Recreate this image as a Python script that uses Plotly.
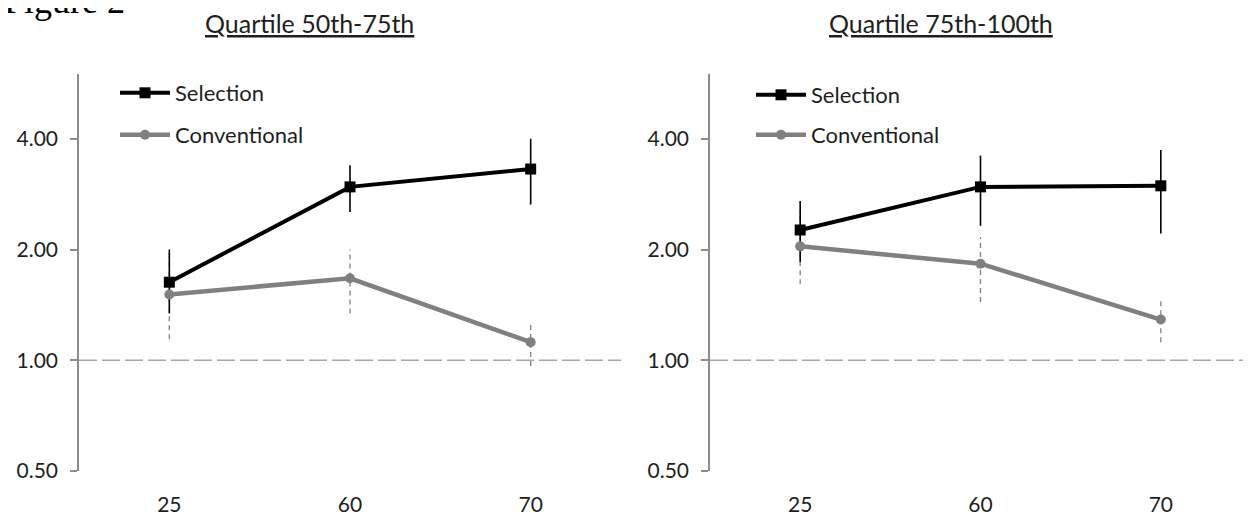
import math
import plotly.graph_objects as go

# ---------------- data ----------------
categories = ["25", "60", "70"]
y_tick_vals = [0.5, 1, 2, 4]
y_tick_text = ["0.50", "1.00", "2.00", "4.00"]

left_sel = [1.63, 2.96, 3.31]
left_sel_lo = [1.34, 2.53, 2.65]
left_sel_hi = [2.00, 3.39, 4.00]
left_conv = [1.51, 1.67, 1.12]
left_conv_lo = [1.14, 1.34, 0.965]
left_conv_hi = [1.98, 2.00, 1.27]

right_sel = [2.26, 2.96, 2.98]
right_sel_lo = [1.85, 2.32, 2.21]
right_sel_hi = [2.71, 3.60, 3.73]
right_conv = [2.04, 1.83, 1.29]
right_conv_lo = [1.61, 1.44, 1.12]
right_conv_hi = [2.55, 2.16, 1.45]

titles = ["Quartile 50th-75th", "Quartile 75th-100th"]
series_names = ["Selection", "Conventional"]

# ---------------- style ----------------
W, H = 1251, 525
OFF = 8                      # page body margin
S_TOP, S_BOTTOM = 74, 471    # plot area top/bottom on screen
TOP, BOTTOM = S_TOP - OFF, S_BOTTOM - OFF
FONT = "Lato"
TXT = "#1e1e1e"
BLACK = "#000000"
GREY = "#808080"
AXIS_GREY = "#8c8c8c"

fig = go.Figure()
xpos = list(range(len(categories)))


def err_xy(lo, hi):
    xs, ys = [], []
    for i in xpos:
        xs += [i, i, None]
        ys += [lo[i], hi[i], None]
    return xs, ys


def add_panel(n, sel, sel_lo, sel_hi, conv, conv_lo, conv_hi, leg_a, leg_b):
    xa = "x" if n == 1 else "x2"
    ya = "y" if n == 1 else "y2"
    fig.add_trace(go.Scatter(x=[-0.5, len(categories) - 0.5], y=[1, 1], mode="lines",
                             line=dict(color="#a6a6a6", width=1.5, dash="18px,5px"),
                             xaxis=xa, yaxis=ya, showlegend=False, hoverinfo="skip"))
    ex, ey = err_xy(conv_lo, conv_hi)
    fig.add_trace(go.Scatter(x=ex, y=ey, mode="lines",
                             line=dict(color=GREY, width=1.3, dash="5px,4px"),
                             xaxis=xa, yaxis=ya, showlegend=False, hoverinfo="skip"))
    ex, ey = err_xy(sel_lo, sel_hi)
    fig.add_trace(go.Scatter(x=ex, y=ey, mode="lines",
                             line=dict(color=BLACK, width=1.6),
                             xaxis=xa, yaxis=ya, showlegend=False, hoverinfo="skip"))
    fig.add_trace(go.Scatter(x=xpos, y=conv, mode="lines+markers", name=series_names[1],
                             line=dict(color=GREY, width=4.5),
                             marker=dict(symbol="circle", size=10, color=GREY),
                             xaxis=xa, yaxis=ya, legend=leg_b))
    fig.add_trace(go.Scatter(x=xpos, y=sel, mode="lines+markers", name=series_names[0],
                             line=dict(color=BLACK, width=4),
                             marker=dict(symbol="square", size=11, color=BLACK),
                             xaxis=xa, yaxis=ya, legend=leg_a))


add_panel(1, left_sel, left_sel_lo, left_sel_hi, left_conv, left_conv_lo, left_conv_hi,
          "legend", "legend2")
add_panel(2, right_sel, right_sel_lo, right_sel_hi, right_conv, right_conv_lo, right_conv_hi,
          "legend3", "legend4")


def px(sx):
    return (sx - OFF) / W


def py(sy):
    return (S_BOTTOM - sy) / (S_BOTTOM - S_TOP)


xaxis_common = dict(range=[-0.5, len(categories) - 0.5], tickvals=xpos, ticktext=categories,
                    showline=False, showgrid=False, zeroline=False, ticks="",
                    tickfont=dict(family=FONT, size=21, color=TXT),
                    ticklabelstandoff=19, automargin=False, fixedrange=True)
yaxis_common = dict(type="log", range=[math.log10(0.5), math.log10(6)],
                    tickvals=y_tick_vals, ticktext=y_tick_text,
                    showline=True, linecolor=AXIS_GREY, linewidth=1.5,
                    ticks="outside", ticklen=7, tickwidth=1.5, tickcolor=AXIS_GREY,
                    showgrid=False, zeroline=False,
                    tickfont=dict(family=FONT, size=21, color=TXT),
                    ticklabelstandoff=8, automargin=False, fixedrange=True)

leg_common = dict(bgcolor="rgba(0,0,0,0)", borderwidth=0, itemwidth=50,
                  font=dict(family=FONT, size=22, color=TXT),
                  xanchor="left", yanchor="middle", xref="paper", yref="paper")

fig.update_layout(
    width=W, height=H,
    margin=dict(l=0, r=0, t=TOP, b=H - BOTTOM),
    paper_bgcolor="white", plot_bgcolor="white",
    xaxis=dict(domain=[px(79), px(621)], anchor="y", **xaxis_common),
    xaxis2=dict(domain=[px(710), px(1251)], anchor="y2", **xaxis_common),
    yaxis=dict(domain=[0, 1], anchor="x", **yaxis_common),
    yaxis2=dict(domain=[0, 1], anchor="x2", **yaxis_common),
    legend=dict(x=px(115), y=py(93), **leg_common),
    legend2=dict(x=px(115), y=py(135), **leg_common),
    legend3=dict(x=px(751), y=py(95), **leg_common),
    legend4=dict(x=px(751), y=py(135), **leg_common),
    showlegend=True,
)

for cx, t in zip([309, 941], titles):
    fig.add_annotation(text=t, xref="paper", yref="paper", x=px(cx), y=py(23),
                       xanchor="center", yanchor="middle", showarrow=False,
                       font=dict(family=FONT, size=25, color=TXT, lineposition="under"))

# partially visible figure caption at the very top (cut off as in the source)
fig.add_annotation(text="Figure 2", xref="paper", yref="paper", x=px(3), y=py(22),
                   xanchor="left", yanchor="bottom", showarrow=False, borderpad=0,
                   font=dict(family="Liberation Serif", size=36, color=BLACK))

fig.write_html("out.html")
